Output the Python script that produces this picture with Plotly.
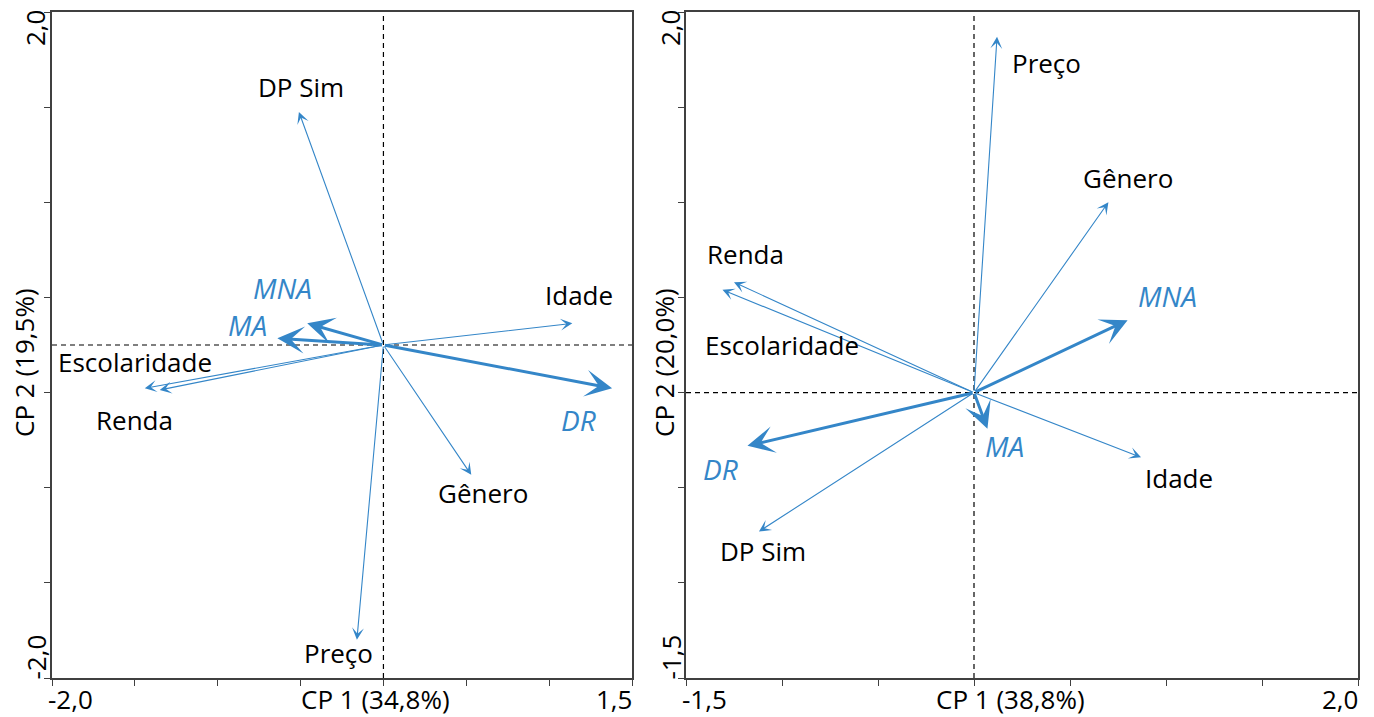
import plotly.graph_objects as go

# ---------------- data ----------------
variables = ["DP Sim", "Idade", "Escolaridade", "Renda", "Gênero", "Preço", "MNA", "MA", "DR"]
groups = ["MNA", "MA", "DR"]

# Panel A (CP1 34,8% x CP2 19,5%)
a_x = [-0.51, 1.14, -1.44, -1.35, 0.53, -0.16, -0.46, -0.64, 1.38]
a_y = [1.40, 0.13, -0.26, -0.27, -0.78, -1.77, 0.13, 0.04, -0.26]
a_lab_x = [-0.50, 1.18, -1.50, -1.50, 0.60, -0.27, -0.61, -0.82, 1.18]
a_lab_y = [1.55, 0.30, -0.10, -0.45, -0.89, -1.85, 0.34, 0.12, -0.45]

# Panel B (CP1 38,8% x CP2 20,0%)
b_x = [-1.12, 0.87, -1.31, -1.25, 0.70, 0.12, 0.80, 0.07, -1.18]
b_y = [-0.73, -0.34, 0.54, 0.58, 1.00, 1.87, 0.38, -0.19, -0.28]
b_lab_x = [-1.10, 1.07, -1.00, -1.19, 0.80, 0.38, 1.01, 0.16, -1.32]
b_lab_y = [-0.83, -0.45, 0.25, 0.73, 1.13, 1.73, 0.51, -0.28, -0.40]

a_range_x = [-2.0, 1.5]
a_range_y = [-2.0, 2.0]
b_range_x = [-1.5, 2.0]
b_range_y = [-1.5, 2.0]
a_xticks = [-2.0, -1.5, -1.0, -0.5, 0.0, 0.5, 1.0, 1.5]
a_yticks = [-2.0, -1.4286, -0.8571, -0.2857, 0.2857, 0.8571, 1.4286, 2.0]
b_xticks = [-1.5, -1.0, -0.5, 0.0, 0.5, 1.0, 1.5, 2.0]
b_yticks = [-1.5, -1.0, -0.5, 0.0, 0.5, 1.0, 1.5, 2.0]
a_xtitle, a_ytitle = "CP 1 (34,8%)", "CP 2 (19,5%)"
b_xtitle, b_ytitle = "CP 1 (38,8%)", "CP 2 (20,0%)"
a_tick_text = ["-2,0", "1,5", "-2,0", "2,0"]
b_tick_text = ["-1,5", "2,0", "-1,5", "2,0"]

BLUE = "#3486C8"
AXC = "#404040"
FONT = "Open Sans"
FS = 26
FS_IT = 28

W, H = 1374, 717
ML, MR, MT, MB = 52, 16, 10, 39
PW = W - ML - MR
PH = H - MT - MB
dom_a = [0.0, 580 / PW]
dom_b = [(686 - ML) / PW, 1.0]

fig = go.Figure()
# invisible traces to establish both subplots
fig.add_trace(go.Scatter(x=[0], y=[0], mode="markers", marker=dict(opacity=0), xaxis="x", yaxis="y",
                         showlegend=False, hoverinfo="skip"))
fig.add_trace(go.Scatter(x=[0], y=[0], mode="markers", marker=dict(opacity=0), xaxis="x2", yaxis="y2",
                         showlegend=False, hoverinfo="skip"))

ax_common = dict(showgrid=False, zeroline=False, showline=True, mirror=True, linecolor=AXC, linewidth=1.5,
                 ticks="outside", ticklen=6, tickcolor=AXC, tickwidth=1.3, showticklabels=False, fixedrange=True)

fig.update_layout(
    width=W, height=H, margin=dict(l=ML, r=MR, t=MT, b=MB),
    paper_bgcolor="white", plot_bgcolor="white", showlegend=False,
    xaxis=dict(domain=dom_a, range=a_range_x, tickvals=a_xticks, anchor="y", **ax_common),
    yaxis=dict(domain=[0, 1], range=a_range_y, tickvals=a_yticks, anchor="x", **ax_common),
    xaxis2=dict(domain=dom_b, range=b_range_x, tickvals=b_xticks, anchor="y2", **ax_common),
    yaxis2=dict(domain=[0, 1], range=b_range_y, tickvals=b_yticks, anchor="x2", **ax_common),
)

shapes = []
anns = []


def add_panel(xs, ys, lx, ly, xref, yref, xrange, yrange):
    # dashed cross lines
    shapes.append(dict(type="line", xref=xref, yref=yref, x0=0, x1=0, y0=yrange[0], y1=yrange[1],
                       line=dict(color="black", width=1.2, dash="5px,4px")))
    shapes.append(dict(type="line", xref=xref, yref=yref, x0=xrange[0], x1=xrange[1], y0=0, y1=0,
                       line=dict(color="black", width=1.2, dash="5px,4px")))
    for name, x, y, tx, ty in zip(variables, xs, ys, lx, ly):
        grp = name in groups
        anns.append(dict(x=x, y=y, ax=0, ay=0, xref=xref, yref=yref, axref=xref, ayref=yref,
                         text="", showarrow=True, arrowhead=3, arrowcolor=BLUE,
                         arrowwidth=3.0 if grp else 1.1,
                         arrowsize=1.5 if grp else 1.8, standoff=0, startstandoff=0))
        anns.append(dict(x=tx, y=ty, xref=xref, yref=yref, text=(f"<i>{name}</i>" if grp else name),
                         showarrow=False, xanchor="center", yanchor="middle",
                         font=dict(family=FONT, size=FS_IT if grp else FS, color=BLUE if grp else "black")))


add_panel(a_x, a_y, a_lab_x, a_lab_y, "x", "y", a_range_x, a_range_y)
add_panel(b_x, b_y, b_lab_x, b_lab_y, "x2", "y2", b_range_x, b_range_y)

tf = dict(family=FONT, size=FS, color="black")


def px_x(p):
    return (p - ML) / PW


# x tick labels (ends only)
for xref, rng, txt in [("x", a_range_x, a_tick_text), ("x2", b_range_x, b_tick_text)]:
    anns.append(dict(x=rng[0], y=0, xref=xref, yref="paper", text=txt[0], showarrow=False,
                     xanchor="left", yanchor="top", xshift=-6, yshift=-1, font=tf))
    anns.append(dict(x=rng[1], y=0, xref=xref, yref="paper", text=txt[1], showarrow=False,
                     xanchor="right", yanchor="top", xshift=2, yshift=-1, font=tf))

# y tick labels (ends only), rotated
for px, txt in [(35, a_tick_text), (670, b_tick_text)]:
    anns.append(dict(x=px_x(px), y=0, xref="paper", yref="paper", text=txt[2], showarrow=False,
                     textangle=-90, xanchor="center", yanchor="bottom", yshift=-4, font=tf))
    anns.append(dict(x=px_x(px), y=1, xref="paper", yref="paper", text=txt[3], showarrow=False,
                     textangle=-90, xanchor="center", yanchor="top", yshift=4, font=tf))

# axis titles
for px, t in [(375, a_xtitle), (1011, b_xtitle)]:
    anns.append(dict(x=px_x(px), y=0, xref="paper", yref="paper", text=t, showarrow=False,
                     xanchor="center", yanchor="top", yshift=-1, font=tf))
for px, t in [(24, a_ytitle), (664, b_ytitle)]:
    anns.append(dict(x=px_x(px), y=(H - MB - 362) / PH, xref="paper", yref="paper", text=t,
                     showarrow=False, textangle=-90, xanchor="center", yanchor="middle", font=tf))

fig.update_layout(shapes=shapes, annotations=anns)
fig.write_html("out.html")
